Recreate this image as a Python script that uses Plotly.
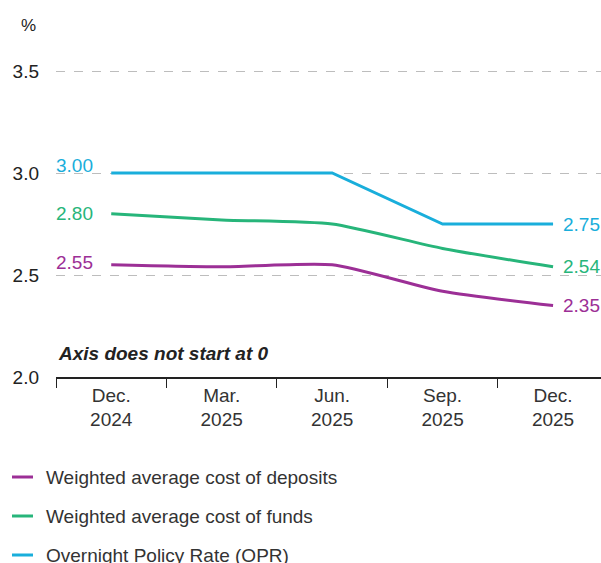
import plotly.graph_objects as go

# Quarter-end periods
periods = ["Dec.<br>2024", "Mar.<br>2025", "Jun.<br>2025", "Sep.<br>2025", "Dec.<br>2025"]

# Rates, %
deposits = [2.55, 2.54, 2.55, 2.42, 2.35]
funds = [2.80, 2.77, 2.75, 2.63, 2.54]
opr = [3.00, 3.00, 3.00, 2.75, 2.75]

series_names = [
    "Weighted average cost of deposits",
    "Weighted average cost of funds",
    "Overnight Policy Rate (OPR)",
]
series_values = [deposits, funds, opr]
series_colors = ["#9C2F96", "#27B57A", "#19AEDB"]
series_shapes = ["spline", "spline", "linear"]
start_label_lift = [2, 0, 8]

y_ticks = [2.0, 2.5, 3.0, 3.5]

FONT = "Liberation Sans, Arial, sans-serif"
TEXT = "#222222"
FS = 19

fig = go.Figure()

for name, vals, color, shape, lift in zip(series_names, series_values, series_colors,
                                          series_shapes, start_label_lift):
    fig.add_trace(go.Scatter(
        x=periods, y=vals, name=name, mode="lines",
        line=dict(color=color, width=3, shape=shape, smoothing=0.6),
        showlegend=False, hoverinfo="skip",
    ))
    # start and end value labels
    fig.add_annotation(x=periods[0], y=vals[0], xref="x", yref="y", text=f"{vals[0]:.2f}",
                       showarrow=False, xanchor="right", xshift=-16, yshift=lift,
                       font=dict(family=FONT, size=FS, color=color))
    fig.add_annotation(x=periods[-1], y=vals[-1], xref="x", yref="y", text=f"{vals[-1]:.2f}",
                       showarrow=False, xanchor="left", xshift=8,
                       font=dict(family=FONT, size=FS, color=color))

fig.add_annotation(x=0, y=2.0, xref="paper", yref="y", yshift=24,
                   text="<b><i>Axis does not start at 0</i></b>",
                   showarrow=False, xanchor="left", yanchor="middle",
                   font=dict(family=FONT, size=FS, color=TEXT))

fig.add_annotation(x=-56 / 545, y=1, xref="paper", yref="paper", text="%", showarrow=False,
                   xanchor="left", yanchor="middle", xshift=19, yshift=15,
                   font=dict(family=FONT, size=FS - 2, color=TEXT))

# Legend drawn below the axis
legend_y0 = 477
for i, (name, color) in enumerate(zip(series_names, series_colors)):
    ypx = legend_y0 + 39 * i
    yp = (563 - 186 - ypx) / (377 - 40)
    fig.add_shape(type="line", xref="paper", yref="paper",
                  x0=-44 / 545, x1=-23 / 545, y0=yp, y1=yp,
                  line=dict(color=color, width=3))
    fig.add_annotation(x=-12 / 545, y=yp, xref="paper", yref="paper", text=name,
                       showarrow=False, xanchor="left", yanchor="middle",
                       font=dict(family=FONT, size=FS, color="#333333"))

fig.update_layout(
    width=601, height=563,
    margin=dict(l=56, r=0, t=40, b=186),
    paper_bgcolor="white", plot_bgcolor="white",
    font=dict(family=FONT, color=TEXT),
    xaxis=dict(
        type="category", categoryorder="array", categoryarray=periods,
        range=[-0.5, 4.434], tickson="boundaries",
        showline=True, linecolor="#222222", linewidth=1.5,
        ticks="outside", ticklen=9, tickcolor="#222222", tickwidth=1.2,
        showgrid=False, zeroline=False,
        tickfont=dict(family=FONT, size=FS, color="#333333"),
    ),
    yaxis=dict(
        range=[2.0, 3.652], tickmode="array", tickvals=y_ticks,
        tickformat=".1f", showgrid=True, gridcolor="#BDBDBD", griddash="dash", gridwidth=1,
        zeroline=False, showline=False, ticks="", ticklabelstandoff=16,
        tickfont=dict(family=FONT, size=FS, color=TEXT),
    ),
)

fig.write_html("out.html")
